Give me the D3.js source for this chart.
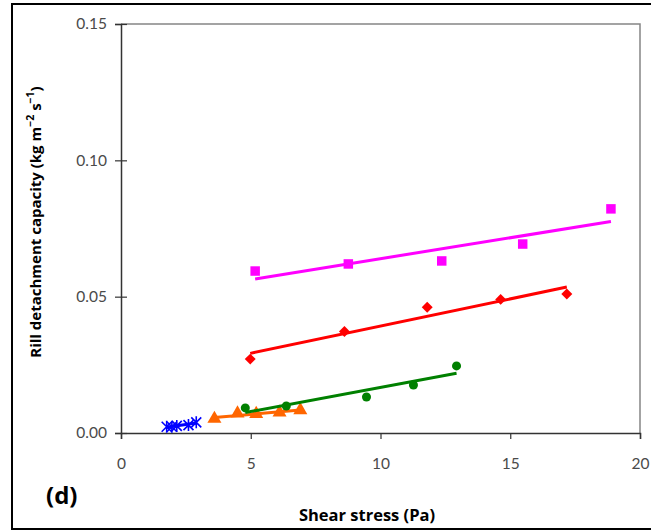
<!DOCTYPE html>
<html>
<head>
<meta charset="utf-8">
<script src="https://cdn.jsdelivr.net/npm/d3@7"></script>
<style>
  body { margin: 0; background: #fff; }
  text { font-family: Lato, "Open Sans", sans-serif; }
</style>
</head>
<body>
<svg id="chart" width="651" height="531"></svg>
<script>
// shear stress (Pa) and rill detachment capacity (kg m-2 s-1) per series
const magentaX = [5.17, 8.76, 12.36, 15.48, 18.88]
const magentaY = [0.0594, 0.0620, 0.0631, 0.0693, 0.0822]
const redX = [4.98, 8.61, 11.80, 14.63, 17.18]
const redY = [0.0271, 0.0372, 0.0461, 0.0490, 0.0510]
const greenX = [4.79, 6.37, 9.46, 11.27, 12.93]
const greenY = [0.0092, 0.0099, 0.0132, 0.0176, 0.0246]
const orangeX = [3.60, 4.49, 5.21, 6.11, 6.91]
const orangeY = [0.0052, 0.0072, 0.0070, 0.0075, 0.0084]
const blueX = [1.76, 1.96, 2.15, 2.60, 2.90]
const blueY = [0.0023, 0.0023, 0.0026, 0.0029, 0.0039]

const xTicks = [0, 5, 10, 15, 20]
const yTicks = [0, 0.05, 0.10, 0.15]

const svg = d3.select("#chart")
const plotLeft = 121, plotRight = 640, plotTop = 24, plotBottom = 433

const x = d3.scaleLinear().domain([0, 20]).range([plotLeft, plotRight])
const y = d3.scaleLinear().domain([0, 0.15]).range([plotBottom, plotTop])

// outer frame
svg.append("rect")
    .attr("x", 12).attr("y", 4)
    .attr("width", 660).attr("height", 525)
    .attr("fill", "none").attr("stroke", "#000").attr("stroke-width", 2)

// plot area border (top + right)
svg.append("path")
    .attr("d", `M${plotLeft},${plotTop}H${plotRight}V${plotBottom}`)
    .attr("fill", "none").attr("stroke", "#858585").attr("stroke-width", 1.5)

// axes
const xAxis = svg.append("g")
    .attr("transform", `translate(0,${plotBottom})`)
    .call(d3.axisBottom(x).tickValues(xTicks).tickSize(6).tickPadding(19).tickFormat(d3.format("d")))
const yAxis = svg.append("g")
    .attr("transform", `translate(${plotLeft},0)`)
    .call(d3.axisLeft(y).tickValues(yTicks).tickSize(6).tickPadding(8).tickFormat(d3.format(".2f")))

for (const ax of [xAxis, yAxis]) {
    ax.select(".domain").attr("stroke", "#333").attr("stroke-width", 1.5)
    ax.selectAll(".tick line").attr("stroke", "#333").attr("stroke-width", 1.2)
    ax.selectAll(".tick text")
        .attr("fill", "#4a4a4a")
        .style("font-size", "15.5px")
        .style("font-family", "Lato, 'Open Sans', sans-serif")
}
// y ticks cross the axis
yAxis.selectAll(".tick line").attr("x1", 6)

// least squares trend line
function fit(xs, ys) {
    const mx = d3.mean(xs), my = d3.mean(ys)
    let sxy = 0, sxx = 0
    xs.forEach((v, i) => { sxy += (v - mx) * (ys[i] - my); sxx += (v - mx) ** 2 })
    const b = sxy / sxx, a = my - b * mx
    const x0 = d3.min(xs), x1 = d3.max(xs)
    return [[x0, a + b * x0], [x1, a + b * x1]]
}

const series = [
    { xs: blueX, ys: blueY, color: "#0000ff", shape: "star" },
    { xs: orangeX, ys: orangeY, color: "#ff6600", shape: "triangle" },
    { xs: greenX, ys: greenY, color: "#008000", shape: "circle" },
    { xs: redX, ys: redY, color: "#ff0000", shape: "diamond" },
    { xs: magentaX, ys: magentaY, color: "#ff00ff", shape: "square" }
]

const line = d3.line().x(d => x(d[0])).y(d => y(d[1]))

const shapes = {
    triangle: d3.symbol().type(d3.symbolTriangle).size(85)(),
    circle: d3.symbol().type(d3.symbolCircle).size(64)(),
    diamond: d3.symbol().type(d3.symbolSquare).size(60)(),
    square: d3.symbol().type(d3.symbolSquare).size(90)(),
    star: "M-5,-5L5,5M-5,5L5,-5M0,-6V6"
}

for (const s of series) {
    const pts = s.xs.map((v, i) => [v, s.ys[i]])
    const g = svg.append("g")
    g.selectAll(".mark")
        .data(pts)
        .join("path")
        .attr("class", "mark")
        .attr("d", shapes[s.shape])
        .attr("transform", d => `translate(${x(d[0])},${y(d[1])})` + (s.shape === "diamond" ? " rotate(45)" : ""))
        .attr("fill", s.shape === "star" ? "none" : s.color)
        .attr("stroke", s.shape === "star" ? s.color : "none")
        .attr("stroke-width", 1.6)
    g.append("path")
        .attr("d", line(fit(s.xs, s.ys)))
        .attr("fill", "none")
        .attr("stroke", s.color)
        .attr("stroke-width", 3)
}

// axis titles
svg.append("text")
    .attr("x", 367).attr("y", 521)
    .attr("text-anchor", "middle")
    .attr("font-weight", "bold").attr("font-size", "16.5px")
    .style("font-family", "'Open Sans', sans-serif")
    .attr("fill", "#000")
    .text("Shear stress (Pa)")

const yt = svg.append("text")
    .attr("transform", "translate(41,222) rotate(-90)")
    .attr("text-anchor", "middle")
    .attr("font-weight", "bold").attr("font-size", "15px")
    .style("font-family", "'Open Sans', sans-serif")
    .attr("fill", "#000")
yt.append("tspan").text("Rill detachment capacity (kg m")
yt.append("tspan").attr("dy", -7).attr("font-size", "10.5px").text("\u22122")
yt.append("tspan").attr("dy", 7).text(" s")
yt.append("tspan").attr("dy", -7).attr("font-size", "10.5px").text("\u22121")
yt.append("tspan").attr("dy", 7).text(")")

svg.append("text")
    .attr("x", 46).attr("y", 504)
    .attr("font-weight", "bold").attr("font-size", "24px")
    .style("font-family", "'Open Sans', sans-serif")
    .attr("fill", "#000")
    .text("(d)")
</script>
</body>
</html>
